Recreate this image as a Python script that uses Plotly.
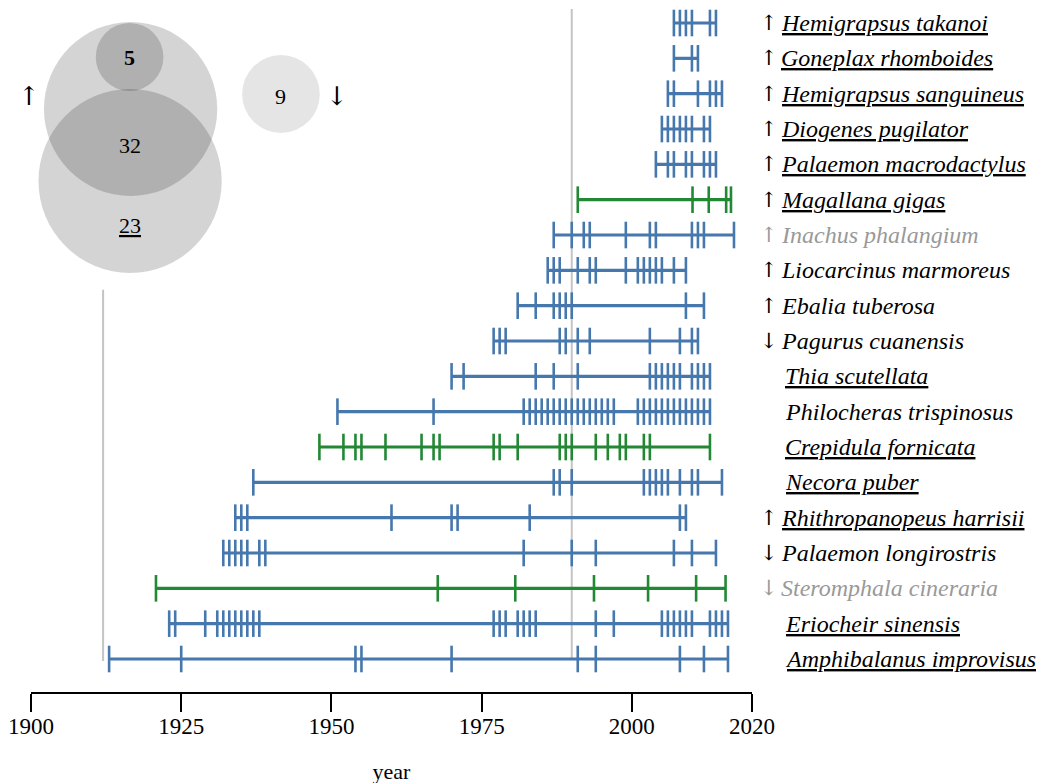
import plotly.graph_objects as go

# ---------------- data ----------------
species = [
    "Hemigrapsus takanoi", "Goneplax rhomboides", "Hemigrapsus sanguineus",
    "Diogenes pugilator", "Palaemon macrodactylus", "Magallana gigas",
    "Inachus phalangium", "Liocarcinus marmoreus", "Ebalia tuberosa",
    "Pagurus cuanensis", "Thia scutellata", "Philocheras trispinosus",
    "Crepidula fornicata", "Necora puber", "Rhithropanopeus harrisii",
    "Palaemon longirostris", "Steromphala cineraria", "Eriocheir sinensis",
    "Amphibalanus improvisus",
]
trend = ["↑", "↑", "↑", "↑", "↑", "↑", "↑", "↑", "↑", "↓", "", "", "", "", "↑", "↓", "↓", "", ""]
underlined = [1, 1, 1, 1, 1, 1, 0, 0, 0, 0, 1, 0, 1, 1, 1, 0, 0, 1, 1]
greyed = [0, 0, 0, 0, 0, 0, 1, 0, 0, 0, 0, 0, 0, 0, 0, 0, 1, 0, 0]
group = ["blue", "blue", "blue", "blue", "blue", "green", "blue", "blue", "blue", "blue",
         "blue", "blue", "green", "blue", "blue", "blue", "green", "blue", "blue"]

records = [
    [2007, 2008, 2009, 2010, 2013, 2014],
    [2007, 2010, 2011],
    [2006, 2007, 2011, 2013, 2014, 2015],
    [2005, 2006, 2007, 2008, 2009, 2010, 2012, 2013],
    [2004, 2006, 2007, 2009, 2010, 2012, 2013, 2014],
    [1991, 2010.1, 2012.8, 2015.7, 2016.5],
    [1987, 1990, 1992, 1993, 1999, 2003, 2004, 2010, 2011, 2012, 2017],
    [1986, 1987, 1988, 1991, 1993, 1994, 1999, 2001, 2002, 2003, 2004, 2005, 2007, 2009],
    [1981, 1984, 1987, 1988, 1989, 1990, 2009, 2012],
    [1977, 1978, 1979, 1988, 1989, 1991, 1993, 2003, 2008, 2010, 2011],
    [1970, 1972, 1984, 1987, 1991, 2003, 2004, 2005, 2006, 2007, 2008, 2010, 2011, 2012, 2013],
    [1951, 1967] + list(range(1982, 1998)) + list(range(2001, 2014)),
    [1948, 1952, 1954, 1955, 1959, 1965, 1967, 1968, 1977, 1978, 1981, 1988, 1989, 1990,
     1994, 1996, 1998, 1999, 2002, 2003, 2013],
    [1937, 1987, 1988, 1990, 2002, 2003, 2004, 2005, 2006, 2008, 2010, 2011, 2015],
    [1934, 1935, 1936, 1960, 1970, 1971, 1983, 2008, 2009],
    [1932, 1933, 1934, 1935, 1936, 1938, 1939, 1982, 1990, 1994, 2007, 2010, 2014],
    [1920.8, 1967.7, 1980.6, 1993.7, 2002.7, 2010.7, 2015.6],
    [1923, 1924, 1929, 1931, 1932, 1933, 1934, 1935, 1936, 1937, 1938, 1977, 1978, 1979,
     1981, 1982, 1983, 1984, 1994, 1997, 2005, 2006, 2007, 2008, 2009, 2010, 2013, 2014,
     2015, 2016],
    [1913, 1925, 1954, 1955, 1970, 1991, 1994, 2008, 2012, 2016],
]

x_ticks = [1900, 1925, 1950, 1975, 2000, 2020]
ref_years = [1990, 1912]

venn_up_only = 5
venn_both = 32
venn_under_only = 23
venn_down = 9

# ---------------- styling ----------------
COLORS = {"blue": "#4677ad", "green": "#228833"}
FONT = "Liberation Serif, Times New Roman, serif"
ARROW_FONT = "DejaVu Serif, serif"
W, H = 1044, 783
OFF = 8  # page body margin
ML, MR, MT, MB = 20, 300, 0, 99
PW, PH = W - ML - MR, H - MT - MB

n = len(species)
yidx = [n - 1 - i for i in range(n)]

fig = go.Figure()

for i in range(n):
    c = COLORS[group[i]]
    yrs = records[i]
    y = yidx[i]
    fig.add_trace(go.Scatter(x=[min(yrs), max(yrs)], y=[y, y], mode="lines",
                             line=dict(color=c, width=3.2), hoverinfo="skip", showlegend=False))
    fig.add_trace(go.Scatter(x=yrs, y=[y] * len(yrs), mode="markers",
                             marker=dict(symbol="line-ns", size=19, color=c,
                                         line=dict(color=c, width=2.6)),
                             showlegend=False, hovertemplate="%{x}<extra></extra>"))

# reference lines
fig.add_shape(type="line", x0=ref_years[0], x1=ref_years[0], y0=-0.02, y1=18.4,
              xref="x", yref="y", line=dict(color="#c4c4c4", width=2), layer="below")
fig.add_shape(type="line", x0=ref_years[1], x1=ref_years[1], y0=-0.06, y1=10.45,
              xref="x", yref="y", line=dict(color="#c4c4c4", width=2), layer="below")


def px(xp, yp):
    xf, yf = xp - OFF, yp - OFF
    return (xf - ML) / PW, (H - MB - yf) / PH


def circle(cx, cy, r, fill):
    x0, y0 = px(cx - r, cy + r)
    x1, y1 = px(cx + r, cy - r)
    fig.add_shape(type="circle", xref="paper", yref="paper", x0=x0, y0=y0, x1=x1, y1=y1,
                  fillcolor=fill, line=dict(width=0), layer="above")


circle(128, 109, 87, "rgba(0,0,0,0.17)")
circle(127.5, 181, 92, "rgba(0,0,0,0.17)")
circle(127, 57, 34, "rgba(0,0,0,0.17)")
circle(279, 94, 39, "rgba(0,0,0,0.1)")


def label(xp, yp, text, size=22, color="black", family=FONT):
    x, y = px(xp, yp)
    fig.add_annotation(x=x, y=y, xref="paper", yref="paper", text=text, showarrow=False,
                       font=dict(family=family, size=size, color=color),
                       xanchor="center", yanchor="middle")


label(127, 57, f"<b>{venn_up_only}</b>")
label(127, 146, str(venn_both))
label(127, 226, f"<u>{venn_under_only}</u>")
label(279, 96, str(venn_down))
label(26, 96, "↑", size=26, family=ARROW_FONT)
label(335, 96, "↓", size=26, family=ARROW_FONT)

# species labels
for i in range(n):
    col = "#999999" if greyed[i] else "black"
    name = f"<i>{species[i]}</i>"
    if underlined[i]:
        name = f"<u>{name}</u>"
    if trend[i]:
        fig.add_annotation(x=1, y=yidx[i], xref="paper", yref="y", text=trend[i],
                           showarrow=False, xanchor="left", yanchor="middle", xshift=6,
                           font=dict(family=ARROW_FONT, size=21, color=col))
    fig.add_annotation(x=1, y=yidx[i], xref="paper", yref="y", text=name,
                       showarrow=False, xanchor="left", yanchor="middle",
                       xshift=27 if trend[i] else 31,
                       font=dict(family=FONT, size=24, color=col))

fig.update_layout(
    width=W, height=H,
    margin=dict(l=ML, r=MR, t=MT, b=MB),
    plot_bgcolor="white", paper_bgcolor="white",
    font=dict(family=FONT, size=20, color="black"),
    xaxis=dict(range=[1900, 2020], tickvals=x_ticks, ticks="outside", ticklen=18,
               tickwidth=1.5, tickcolor="black", showline=True, linecolor="black",
               linewidth=2, showgrid=False, zeroline=False, ticklabelstandoff=-6,
               ticklabeloverflow="allow",
               tickfont=dict(family=FONT, size=23),
               title=dict(text="year", font=dict(family=FONT, size=22), standoff=26)),
    yaxis=dict(range=[-0.934, 18.425], visible=False, showgrid=False, zeroline=False),
    showlegend=False,
)

fig.write_html("out.html")
